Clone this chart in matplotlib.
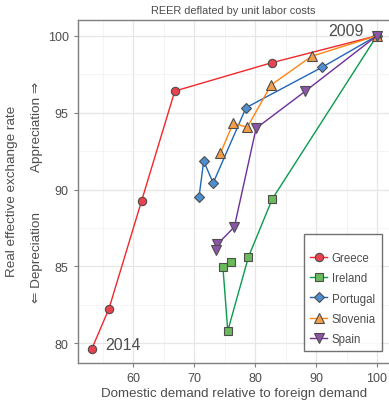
import matplotlib
matplotlib.use("Agg")
import matplotlib.pyplot as plt
from matplotlib.ticker import MultipleLocator

plt.rcParams['font.family'] = ['Liberation Sans', 'DejaVu Sans']

countries = ["Greece", "Ireland", "Portugal", "Slovenia", "Spain"]
greece_x = [100, 82.7, 66.8, 61.35, 56.0, 53.2]
greece_y = [100, 98.24, 96.4, 89.26, 82.26, 79.66]
ireland_x = [100, 82.8, 78.9, 75.5, 74.7, 76.0]
ireland_y = [100, 89.38, 85.62, 80.81, 84.97, 85.26]
portugal_x = [100, 90.95, 78.5, 73.1, 71.55, 70.77]
portugal_y = [100, 97.94, 95.32, 90.42, 91.85, 89.49]
slovenia_x = [100, 89.25, 82.6, 78.7, 76.4, 74.3]
slovenia_y = [100, 98.66, 96.79, 94.04, 94.32, 92.37]
spain_x = [100, 88.26, 80.15, 76.58, 73.78, 73.62]
spain_y = [100, 96.4, 93.98, 87.57, 86.43, 86.08]

xs = [greece_x, ireland_x, portugal_x, slovenia_x, spain_x]
ys = [greece_y, ireland_y, portugal_y, slovenia_y, spain_y]
line_colors = ["#F0272B", "#0A9B4E", "#2166B8", "#FF8410", "#6E2E9A"]
fill_colors = ["#E8434E", "#6AB95A", "#4C8FD3", "#F59E49", "#8D55A8"]
markers = ["o", "s", "D", "^", "v"]
msizes = [6.0, 5.2, 5.6, 7.5, 7.5]

fig = plt.figure(figsize=(3.89, 4.02), dpi=100)
ax = fig.add_axes([77.7 / 389, 1 - 364 / 402, 1 - 77.7 / 389 + 0.002, (364 - 21) / 402])

for name, x, y, lc, fc, m, ms in zip(countries, xs, ys, line_colors, fill_colors, markers, msizes):
    ax.plot(x, y, color=lc, lw=1.0, marker=m, markersize=ms, markerfacecolor=fc,
            markeredgecolor="#4D4D4D", markeredgewidth=0.8, label=name, zorder=3)

ax.set_xlim(50.86, 102.1)
ax.set_ylim(78.72, 101.02)
ax.xaxis.set_major_locator(MultipleLocator(10))
ax.xaxis.set_minor_locator(MultipleLocator(5))
ax.yaxis.set_major_locator(MultipleLocator(5))
ax.yaxis.set_minor_locator(MultipleLocator(2.5))
ax.grid(which="major", color="#E6E6E6", lw=0.9)
ax.grid(which="minor", color="#F2F2F2", lw=0.6)
ax.set_axisbelow(True)
ax.tick_params(which="major", colors="#7F7F7F", labelcolor="#4D4D4D", labelsize=9, length=3, width=0.8)
ax.tick_params(which="minor", length=0)
for s in ["left", "bottom", "top"]:
    ax.spines[s].set_color("#7F7F7F")
    ax.spines[s].set_linewidth(1.0)
ax.spines["right"].set_visible(False)

ax.set_title("REER deflated by unit labor costs", fontsize=7.9, color="#4D4D4D", pad=5)
ax.set_xlabel("Domestic demand relative to foreign demand", fontsize=9.6, color="#4D4D4D", labelpad=2)

ax.text(94.9, 100.33, "2009", fontsize=11.5, color="#4D4D4D", ha="center", va="center")
ax.text(58.3, 79.94, "2014", fontsize=11.5, color="#4D4D4D", ha="center", va="center")

fig.text(12.5 / 389, 1 - 191.5 / 402, "Real effective exchange rate", rotation=90,
         fontsize=9.7, color="#4D4D4D", ha="center", va="center")
fig.text(37 / 389, 1 - 127 / 402, "Appreciation \u21D2", rotation=90,
         fontsize=9.7, color="#4D4D4D", ha="center", va="center")
fig.text(37 / 389, 1 - 258 / 402, "\u21D0 Depreciation", rotation=90,
         fontsize=9.7, color="#4D4D4D", ha="center", va="center")

leg = ax.legend(loc="lower right", bbox_to_anchor=(0.975, 0.035), borderaxespad=0,
                fontsize=8.3, frameon=True, title=" ", title_fontsize=3,
                fancybox=False, edgecolor="#4D4D4D", handlelength=1.5, labelspacing=0.7,
                borderpad=0.55, handletextpad=0.35)
leg.get_frame().set_linewidth(1.0)
for t in leg.get_texts():
    t.set_color("#4D4D4D")

fig.savefig("out.png", dpi=100)
